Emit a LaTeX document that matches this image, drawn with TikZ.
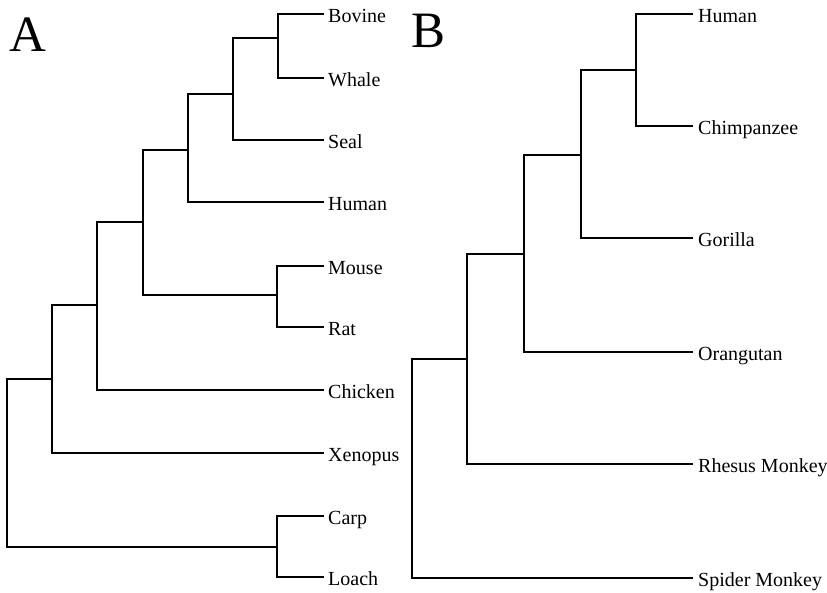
\documentclass[tikz,border=0pt]{standalone}
\usepackage{fontspec}
\setmainfont{Liberation Serif}
\begin{document}
\begin{tikzpicture}[x=1pt,y=-1pt,
  branch/.style={line width=1.2pt,line cap=rect},
  lab/.style={anchor=base west,inner sep=0pt,font=\fontsize{20}{24}\selectfont},
  panel/.style={anchor=base west,inner sep=0pt,font=\fontsize{51}{56}\selectfont}]
\useasboundingbox (0,0) rectangle (827,593);
% ---------- Tree A ----------
\foreach \n/\t/\y in {aBov/Bovine/14, aWha/Whale/78, aSea/Seal/140, aHum/Human/202, aMou/Mouse/266, aRat/Rat/327, aChi/Chicken/390, aXen/Xenopus/453, aCar/Carp/516, aLoa/Loach/577}{
  \coordinate (\n) at (323,\y);
  \node[lab] (\n L) at (328,\y+8.7) {\t};
}
\coordinate (a1) at (278,38);
\coordinate (a2) at (233,94);
\coordinate (a3) at (188,150);
\coordinate (a4) at (277,295);
\coordinate (a5) at (143,222);
\coordinate (a6) at (97,305);
\coordinate (a7) at (52,379);
\coordinate (a8) at (277,547);
\coordinate (a0) at (7,379);
\draw[branch] (a1) |- (aBov) (a1) |- (aWha);
\draw[branch] (a2) |- (a1) (a2) |- (aSea);
\draw[branch] (a3) |- (a2) (a3) |- (aHum);
\draw[branch] (a4) |- (aMou) (a4) |- (aRat);
\draw[branch] (a5) |- (a3) (a5) |- (a4);
\draw[branch] (a6) |- (a5) (a6) |- (aChi);
\draw[branch] (a7) |- (a6) (a7) |- (aXen);
\draw[branch] (a8) |- (aCar) (a8) |- (aLoa);
\draw[branch] (a0) |- (a7) (a0) |- (a8);
\node[panel] (labA) at (9,52) {A};
% ---------- Tree B ----------
\foreach \n/\t/\y in {bHum/Human/14, bChi/Chimpanzee/126, bGor/Gorilla/238, bOra/Orangutan/352, bRhe/Rhesus Monkey/464, bSpi/Spider Monkey/578}{
  \coordinate (\n) at (692,\y);
  \node[lab] (\n L) at (698,\y+8.7) {\t};
}
\coordinate (b1) at (636,70);
\coordinate (b2) at (581,155);
\coordinate (b3) at (524,254);
\coordinate (b4) at (467,359);
\coordinate (b0) at (412,359);
\draw[branch] (b1) |- (bHum) (b1) |- (bChi);
\draw[branch] (b2) |- (b1) (b2) |- (bGor);
\draw[branch] (b3) |- (b2) (b3) |- (bOra);
\draw[branch] (b4) |- (b3) (b4) |- (bRhe);
\draw[branch] (b0) |- (b4) (b0) |- (bSpi);
\node[panel] (labB) at (411,48) {B};
\end{tikzpicture}
\end{document}
